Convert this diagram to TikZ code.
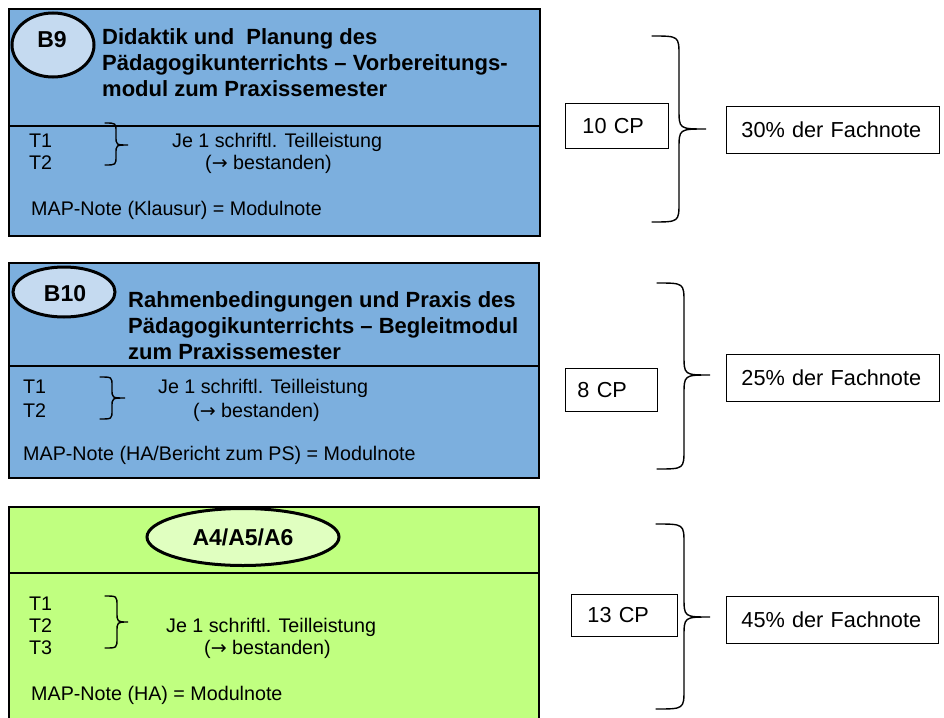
\documentclass[tikz,border=0pt]{standalone}
\usepackage{fontspec}
\setmainfont{Liberation Sans}
\newfontfamily\arrowfont{DejaVu Sans}
\usetikzlibrary{shapes.geometric}
\definecolor{boxblue}{RGB}{124,175,222}
\definecolor{ellblue}{RGB}{197,218,240}
\definecolor{boxgreen}{RGB}{192,255,128}
\definecolor{ellgreen}{RGB}{224,255,192}
\newcommand\regtxt{\fontsize{19.7}{23}\selectfont}
\newcommand\boldtxt{\fontsize{22}{25}\selectfont\bfseries}
\newcommand\labtxt{\fontsize{23}{26}\selectfont\bfseries}
\newcommand\sidetxt{\fontsize{21.7}{25}\selectfont}
\newcommand\arr{{\arrowfont\fontsize{19}{23}\selectfont →}}
% right-facing brace: x0 (ends), xs (spine), xt (tip), y0 (top), ym (tip y), y1 (bottom), r (radius)
\newcommand\bracepath[7]{%
  \draw[bracestyle] (#1,#4) .. controls ({#2},#4) .. ({#2},{#4+#7})
    -- ({#2},{#5-#7}) .. controls ({#2},#5) .. (#3,#5)
    .. controls ({#2},#5) .. ({#2},{#5+#7})
    -- ({#2},{#6-#7}) .. controls ({#2},#6) .. (#1,#6);}
\begin{document}
\begin{tikzpicture}[x=1pt,y=-1pt,
  modframe/.style={draw=black, line width=2.6pt},
  divline/.style={draw=black, line width=1.3pt},
  modell/.style={ellipse, draw=black, line width=3pt, inner sep=0pt},
  bracestyle/.style={line width=1.4pt, line cap=round},
  txt/.style={anchor=base west, inner sep=0pt, font=\regtxt},
  ttl/.style={anchor=base west, inner sep=0pt, font=\boldtxt},
  lab/.style={anchor=base, inner sep=0pt, font=\labtxt},
  sidebox/.style={draw=black, line width=0.9pt, anchor=north west, align=left, font=\sidetxt, inner ysep=0pt}
]
\useasboundingbox (0,0) rectangle (944,717);
\clip (0,0) rectangle (944,717);

% ---------- B9 ----------
\draw[modframe, fill=boxblue] (9,9) rectangle (540,236);
\draw[divline] (9,126) -- (540,126);
\node[modell, fill=ellblue, minimum width=82, minimum height=64] (e9) at (53,45) {};
\node[lab] (l9) at (52,48) {B9};
\node[ttl] (t9a) at (102,45) {Didaktik und\ \ Planung des};
\node[ttl] (t9b) at (102,70.5) {Pädagogikunterrichts – Vorbereitungs-};
\node[ttl] (t9c) at (102,96) {modul zum Praxissemester};
\node[txt] (b9t1) at (29,147) {T1};
\node[txt] (b9t2) at (29,169) {T2};
\bracepath{105}{116}{128}{123}{145}{165}{9}
\node[txt] (b9je) at (172,147) {Je 1 schriftl. Teilleistung};
\node[txt] (b9be) at (205,169) {(\arr{} bestanden)};
\node[txt] (b9map) at (31,215) {MAP-Note (Klausur) = Modulnote};

% ---------- B10 ----------
\draw[modframe, fill=boxblue] (9,263) rectangle (539,478);
\draw[divline] (9,366) -- (539,366);
\node[modell, fill=ellblue, minimum width=102, minimum height=50] (e10) at (64,292) {};
\node[lab] (l10) at (65,301) {B10};
\node[ttl] (t10a) at (128,307) {Rahmenbedingungen und Praxis des};
\node[ttl] (t10b) at (128,333) {Pädagogikunterrichts – Begleitmodul};
\node[ttl] (t10c) at (128,359) {zum Praxissemester};
\node[txt] (b10t1) at (23,393) {T1};
\node[txt] (b10t2) at (23,417) {T2};
\bracepath{100}{112}{125}{377}{398}{419}{9}
\node[txt] (b10je) at (158,393) {Je 1 schriftl. Teilleistung};
\node[txt] (b10be) at (193,417) {(\arr{} bestanden)};
\node[txt] (b10map) at (23,460) {MAP-Note (HA/Bericht zum PS) = Modulnote};

% ---------- A4/A5/A6 ----------
\draw[modframe, fill=boxgreen] (9,507) rectangle (539,730);
\draw[divline] (9,573) -- (539,573);
\node[modell, fill=ellgreen, minimum width=192, minimum height=57] (ea) at (243,537) {};
\node[lab] (la) at (243,545) {A4/A5/A6};
\node[txt] (at1) at (29,610) {T1};
\node[txt] (at2) at (29,632) {T2};
\node[txt] (at3) at (29,654) {T3};
\bracepath{105}{117}{128}{596}{622}{648}{10}
\node[txt] (aje) at (166,632) {Je 1 schriftl. Teilleistung};
\node[txt] (abe) at (204,654) {(\arr{} bestanden)};
\node[txt] (amap) at (31,700) {MAP-Note (HA) = Modulnote};

% ---------- right side ----------
\node[sidebox, minimum height=45, text width=69, inner xsep=17] (cp1) at (565,103) {10 CP};
\bracepath{652}{679}{706}{36}{129}{222}{20}
\node[sidebox, minimum height=47, text width=183, inner xsep=15] (fn1) at (726,106) {30\% der Fachnote};

\node[sidebox, minimum height=43, text width=68, inner xsep=12] (cp2) at (565,368) {8 CP};
\bracepath{657}{684}{710}{283}{375}{469}{20}
\node[sidebox, minimum height=47, text width=183, inner xsep=15] (fn2) at (726,354) {25\% der Fachnote};

\node[sidebox, minimum height=42, text width=74, inner xsep=16] (cp3) at (571,594) {13 CP};
\bracepath{656}{684}{710}{524}{617}{709}{20}
\node[sidebox, minimum height=47, text width=182, inner xsep=15] (fn3) at (726,596) {45\% der Fachnote};
\end{tikzpicture}
\end{document}
